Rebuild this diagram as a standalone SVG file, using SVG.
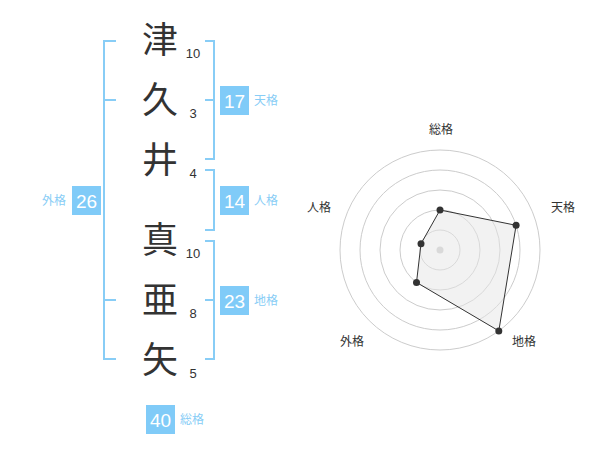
<svg xmlns="http://www.w3.org/2000/svg" width="600" height="470" viewBox="0 0 600 470">
<style>
.kan{font-family:"Noto Sans CJK JP","Noto Sans CJK SC",sans-serif;font-size:36px;fill:#333;text-anchor:middle}
.num{font-family:"Liberation Sans",Arial,sans-serif;font-size:13px;fill:#333;text-anchor:middle}
.br{fill:none;stroke:#88cdf6;stroke-width:2}
.box{fill:#80cbf8}
.bn{font-family:"Liberation Sans",Arial,sans-serif;font-size:19px;fill:#fff;text-anchor:middle}
.bl{font-family:"Noto Sans CJK JP",sans-serif;font-size:12px;fill:#88cdf6}
.rl{font-family:"Noto Sans CJK JP",sans-serif;font-size:12px;fill:#333;text-anchor:middle}
.ring{fill:none;stroke:#ccc;stroke-width:1}
.pt{fill:#333}
</style>
<rect width="600" height="470" fill="#fff"/>
<g id="chars">
<text class="kan" x="160" y="53">津</text>
<text class="kan" x="160" y="113">久</text>
<text class="kan" x="160" y="173">井</text>
<text class="kan" x="160" y="253">真</text>
<text class="kan" x="160" y="313">亜</text>
<text class="kan" x="160" y="373">矢</text>
</g>
<g id="strokes">
<text class="num" x="193" y="58">10</text>
<text class="num" x="193" y="118">3</text>
<text class="num" x="193" y="178">4</text>
<text class="num" x="193" y="258">10</text>
<text class="num" x="193" y="318">8</text>
<text class="num" x="193" y="378">5</text>
</g>
<g id="connectors">
<path class="br" d="M116,41 H104 V359 H116 M104,100 H116 M104,300 H116"/>
<path class="br" d="M205,41 H214 V159 H205 M214,100 H205"/>
<path class="br" d="M205,170 H214 V230 H205"/>
<path class="br" d="M205,241 H214 V359 H205 M214,300 H205"/>
</g>
<g id="tenkaku">
<rect class="box" x="220" y="86" width="29" height="29"/>
<text class="bn" x="234.5" y="107.5">17</text>
<text class="bl" x="254" y="105">天格</text>
</g>
<g id="jinkaku">
<rect class="box" x="220" y="186" width="29" height="29"/>
<text class="bn" x="234.5" y="207.5">14</text>
<text class="bl" x="254" y="205">人格</text>
</g>
<g id="chikaku">
<rect class="box" x="220" y="286" width="29" height="29"/>
<text class="bn" x="234.5" y="307.5">23</text>
<text class="bl" x="254" y="305">地格</text>
</g>
<g id="gaikaku">
<rect class="box" x="72" y="186" width="29" height="29"/>
<text class="bn" x="86.5" y="207.5">26</text>
<text class="bl" x="66" y="205" text-anchor="end">外格</text>
</g>
<g id="soukaku">
<rect class="box" x="146" y="405" width="29" height="29"/>
<text class="bn" x="160.5" y="426.5">40</text>
<text class="bl" x="180" y="424">総格</text>
</g>
<g id="radar">
<circle class="ring" cx="440" cy="250" r="20"/>
<circle class="ring" cx="440" cy="250" r="40"/>
<circle class="ring" cx="440" cy="250" r="60"/>
<circle class="ring" cx="440" cy="250" r="80"/>
<circle class="ring" cx="440" cy="250" r="100"/>
<circle cx="440" cy="250" r="3.5" fill="#ccc"/>
<polygon points="440,210 516.1,225.3 498.8,330.9 416.5,282.4 421,243.8" fill="#e6e6e6" fill-opacity="0.5" stroke="#333" stroke-width="1"/>
<circle class="pt" cx="440" cy="210" r="3.5"/>
<circle class="pt" cx="516.1" cy="225.3" r="3.5"/>
<circle class="pt" cx="498.8" cy="330.9" r="3.5"/>
<circle class="pt" cx="416.5" cy="282.4" r="3.5"/>
<circle class="pt" cx="421" cy="243.8" r="3.5"/>
<text class="rl" x="441" y="134">総格</text>
<text class="rl" x="563" y="212">天格</text>
<text class="rl" x="524" y="346">地格</text>
<text class="rl" x="352" y="346">外格</text>
<text class="rl" x="319" y="212">人格</text>
</g>
</svg>
